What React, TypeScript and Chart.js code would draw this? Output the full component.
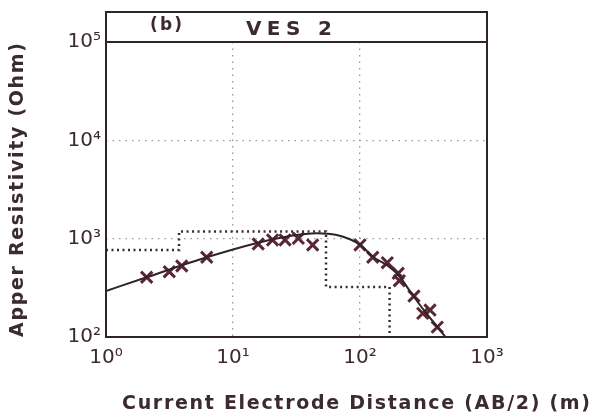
import React, { useEffect, useRef } from "react";
import { Chart, registerables } from "chart.js";
Chart.register(...registerables);

// Axis ticks
const xTickValues = [1, 10, 100, 1000];
const yTickValues = [100, 1000, 10000, 100000];
const tickText: Record<number, string> = {
  1: "10⁰",
  10: "10¹",
  100: "10²",
  1000: "10³",
  10000: "10⁴",
  100000: "10⁵",
};

// Observed field data (AB/2 in m, apparent resistivity in Ohm m)
const obsAB2 = [2.09, 3.15, 3.95, 6.21, 15.8, 20.5, 25.7, 32.7, 42.4, 100, 126, 164, 200, 204, 266, 312, 356, 406];
const obsRho = [405, 461, 527, 647, 883, 970, 970, 1009, 863, 863, 647, 570, 444, 374, 261, 174, 188, 126];

// Smooth fitted curve
const fitAB2 = [1, 2.09, 6.21, 15.8, 28.1, 45.6, 65.6, 83.4, 101, 126, 162, 200, 263, 325, 402, 467, 511];
const fitRho = [294, 405, 647, 910, 1064, 1135, 1091, 986, 863, 656, 540, 427, 261, 181, 129, 101, 85];

// Layered model (depth of layer top, layer resistivity)
const layerTop = [1, 3.76, 54, 171];
const layerRho = [768, 1183, 323, 60];

const panelLabel = "(b)";
const titleText = "VES 2";
const xTitle = "Current Electrode Distance (AB/2) (m)";
const yTitle = "Apper Resistivity (Ohm)";

const INK = "#2f2427";
const TEXT = "#3b2a2e";
const MARK = "#5a2633";
const GRID = "#9c9696";

function drawSpaced(ctx: CanvasRenderingContext2D, text: string, cx: number, cy: number, width: number, font: string) {
  ctx.font = font;
  (ctx as any).letterSpacing = "0px";
  const w = ctx.measureText(text).width;
  const ls = Math.max(0, (width - w) / Math.max(1, text.length - 1));
  (ctx as any).letterSpacing = ls + "px";
  ctx.textAlign = "left";
  ctx.textBaseline = "middle";
  const startX = w > width ? cx - w / 2 : cx - width / 2;
  ctx.fillText(text, startX, cy);
  (ctx as any).letterSpacing = "0px";
}

const framePlugin = {
  id: "vesFrame",
  afterDraw(chart: any) {
    const { ctx, chartArea } = chart;
    const { left, right, top, bottom } = chartArea;
    ctx.save();
    ctx.strokeStyle = INK;
    ctx.lineWidth = 2;
    ctx.strokeRect(left, top - 30, right - left, bottom - top + 30);
    ctx.beginPath();
    ctx.moveTo(left, top);
    ctx.lineTo(right, top);
    ctx.stroke();

    ctx.fillStyle = TEXT;
    drawSpaced(ctx, panelLabel, left + 60, top - 16, 32, "bold 17px 'DejaVu Sans'");
    drawSpaced(ctx, titleText, left + 183, top - 12, 86, "bold 20px 'DejaVu Sans'");

    drawSpaced(ctx, xTitle, left + 250, bottom + 67, 468, "bold 19px 'DejaVu Sans'");

    ctx.translate(18, top + 148);
    ctx.rotate(-Math.PI / 2);
    drawSpaced(ctx, yTitle, 0, 0, 294, "bold 19px 'DejaVu Sans'");
    ctx.restore();
  },
};

export default function App() {
  const ref = useRef<HTMLCanvasElement | null>(null);

  useEffect(() => {
    if (!ref.current) return;
    const obs = obsAB2.map((x, i) => ({ x, y: obsRho[i] }));
    const fit = fitAB2.map((x, i) => ({ x, y: fitRho[i] }));
    const model = layerTop.map((x, i) => ({ x, y: layerRho[i] }));

    const tickFont = { family: "'DejaVu Sans'", size: 20 };

    const chart = new Chart(ref.current, {
      type: "scatter",
      data: {
        datasets: [
          {
            data: model,
            showLine: true,
            stepped: "before",
            borderColor: "#3a2d30",
            borderWidth: 2.5,
            borderDash: [2, 3.5],
            pointRadius: 0,
          },
          {
            data: fit,
            showLine: true,
            cubicInterpolationMode: "monotone",
            borderColor: INK,
            borderWidth: 2,
            pointRadius: 0,
          },
          {
            data: obs,
            showLine: false,
            pointStyle: "crossRot",
            pointRadius: 8,
            borderColor: MARK,
            borderWidth: 3,
          },
        ],
      } as any,
      options: {
        responsive: false,
        animation: false,
        layout: { padding: { left: 0, right: 105, top: 42, bottom: 0 } },
        plugins: {
          legend: { display: false },
          tooltip: { enabled: false },
        },
        scales: {
          x: {
            type: "logarithmic",
            min: 1,
            max: 1000,
            afterBuildTicks: (s: any) => {
              s.ticks = xTickValues.map((v) => ({ value: v }));
            },
            afterFit: (s: any) => {
              s.height = 83;
            },
            ticks: {
              callback: (v: any) => tickText[Number(v)],
              font: tickFont,
              color: TEXT,
              padding: 9,
              maxRotation: 0,
              autoSkip: false,
            },
            grid: {
              drawTicks: false,
              color: (c: any) => (c.tick && (c.tick.value === 10 || c.tick.value === 100) ? GRID : "transparent"),
              lineWidth: 1.3,
            },
            border: { display: false, dash: [1.5, 5] },
          },
          y: {
            type: "logarithmic",
            min: 100,
            max: 100000,
            afterBuildTicks: (s: any) => {
              s.ticks = yTickValues.map((v) => ({ value: v }));
            },
            afterFit: (s: any) => {
              s.width = 106;
            },
            ticks: {
              callback: (v: any) => tickText[Number(v)],
              font: tickFont,
              color: TEXT,
              padding: 5,
              autoSkip: false,
            },
            grid: {
              drawTicks: false,
              color: (c: any) => (c.tick && (c.tick.value === 1000 || c.tick.value === 10000) ? GRID : "transparent"),
              lineWidth: 1.3,
            },
            border: { display: false, dash: [1.5, 5] },
          },
        },
      } as any,
      plugins: [framePlugin],
    });
    return () => chart.destroy();
  }, []);

  return (
    <canvas
      ref={ref}
      width={592}
      height={420}
      style={{ position: "absolute", left: 0, top: 0, display: "block", background: "#ffffff" }}
    />
  );
}
